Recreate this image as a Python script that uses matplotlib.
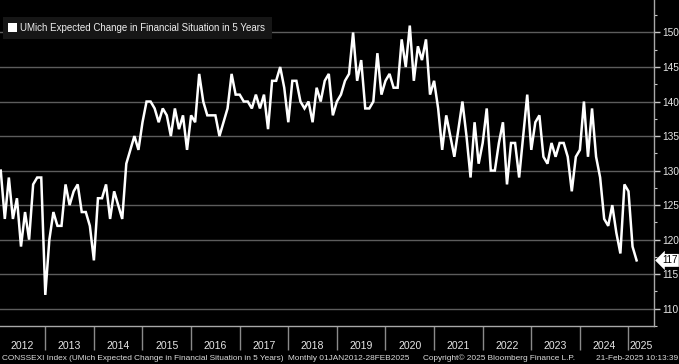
import matplotlib
matplotlib.use("Agg")
import matplotlib.pyplot as plt
from matplotlib.patches import Rectangle
import numpy as np

# ---- data (monthly, Jan 2012 .. Feb 2025) ----
values_2012 = [130, 123, 129, 123, 126, 119, 124, 120, 128, 129, 129, 112]
values_2013 = [120, 124, 122, 122, 128, 125, 127, 128, 124, 124, 122, 117]
values_2014 = [126, 126, 128, 123, 127, 125, 123, 131, 133, 135, 133, 137]
values_2015 = [140, 140, 139, 137, 139, 138, 135, 139, 136, 138, 133, 138]
values_2016 = [137, 144, 140, 138, 138, 138, 135, 137, 139, 144, 141, 141]
values_2017 = [140, 140, 139, 141, 139, 141, 136, 143, 143, 145, 142, 137]
values_2018 = [143, 143, 140, 139, 140, 137, 142, 140, 143, 144, 138, 140]
values_2019 = [141, 143, 144, 150, 143, 146, 139, 139, 140, 147, 141, 143]
values_2020 = [144, 142, 142, 149, 145, 151, 143, 148, 146, 149, 141, 143]
values_2021 = [139, 133, 138, 135, 132, 136, 140, 135, 129, 137, 131, 134]
values_2022 = [139, 130, 130, 134, 137, 128, 134, 134, 129, 135, 141, 133]
values_2023 = [137, 138, 132, 131, 134, 132, 134, 134, 132, 127, 132, 133]
values_2024 = [140, 132, 139, 132, 129, 123, 122, 125, 121, 118, 128, 127]
values_2025 = [119, 117]

years = list(range(2012, 2026))
series_label = "UMich Expected Change in Financial Situation in 5 Years"
y_ticks = [110, 115, 120, 125, 130, 135, 140, 145, 150]
last_label = "117"

values = (values_2012 + values_2013 + values_2014 + values_2015 + values_2016 +
          values_2017 + values_2018 + values_2019 + values_2020 + values_2021 +
          values_2022 + values_2023 + values_2024 + values_2025)
x = np.arange(len(values))  # month index, point at month end

W, H = 679, 364
fig = plt.figure(figsize=(W / 100, H / 100), dpi=100, facecolor="black")
plt.rcParams["font.family"] = ["Liberation Sans", "DejaVu Sans"]

ax = fig.add_axes([0, (H - 326) / H, 654 / W, 326 / H])
ax.set_facecolor("black")

ax.plot(x, values, color="white", lw=1.8, solid_joinstyle="miter", zorder=3)

xmin, xmax = -0.185, 161.3
ax.set_xlim(xmin, xmax)
ax.set_ylim(108.3, 154.7)

# grid
ax.set_yticks(y_ticks)
ax.set_yticks(np.arange(107.5, 155, 2.5), minor=True)
for v in y_ticks:
    ax.axhline(v, color="#5c5c5c", lw=1.0, zorder=1)

ax.yaxis.tick_right()
ax.tick_params(axis="y", which="major", length=4.5, width=1.0, color="#c8c8c8",
               labelcolor="#e6e6e6", labelsize=7.3, pad=1.5, direction="out")
ax.tick_params(axis="y", which="minor", length=2.5, width=0.8, color="#c8c8c8",
               direction="out")

# x axis: year separators + year labels centred in the visible part of each year
bounds = [12 * (yr - 2012) - 1 for yr in years[1:]]
edges = [12 * (yr - 2012) - 1 for yr in years] + [12 * (years[-1] + 1 - 2012) - 1]
centers = [(max(edges[k], xmin) + min(edges[k + 1], xmax)) / 2 for k in range(len(years))]
ax.set_xticks(bounds)
ax.set_xticklabels([])
ax.set_xticks(centers, minor=True)
ax.set_xticklabels([str(yr) for yr in years], minor=True)
ax.tick_params(axis="x", which="major", length=17, width=1.0, color="#8a8a8a",
               direction="out")
ax.tick_params(axis="x", which="minor", length=0, labelcolor="#e6e6e6",
               labelsize=7.6, pad=11)

for s in ["left", "top"]:
    ax.spines[s].set_visible(False)
for s in ["right", "bottom"]:
    ax.spines[s].set_color("#a8a8a8")
    ax.spines[s].set_linewidth(1.0)

# legend box
fig.add_artist(Rectangle((3 / W, 1 - 39 / H), 269 / W, 22 / H, transform=fig.transFigure,
                         facecolor="#161616", edgecolor="none", zorder=5))
fig.add_artist(Rectangle((8 / W, 1 - 32 / H), 9 / W, 9 / H, transform=fig.transFigure,
                         facecolor="white", edgecolor="none", zorder=6))
fig.text(20 / W, 1 - 28 / H, series_label, color="#eeeeee", fontsize=7.05,
         va="center", ha="left", zorder=7)

# last value tag
ax.text(662 / 654, values[-1], last_label, transform=ax.get_yaxis_transform(),
        color="black", fontsize=7.0, va="center", ha="left", zorder=8,
        bbox=dict(boxstyle="larrow,pad=0.15", facecolor="white", edgecolor="none"),
        clip_on=False)

# footer
fig.text(2 / W, 1 - 358 / H,
         "CONSSEXI Index (UMich Expected Change in Financial Situation in 5 Years)",
         color="#dcdcdc", fontsize=5.95, va="center", ha="left")
fig.text(288 / W, 1 - 358 / H, "Monthly 01JAN2012-28FEB2025",
         color="#dcdcdc", fontsize=5.95, va="center", ha="left")
fig.text(423 / W, 1 - 358 / H, "Copyright\u00a9 2025 Bloomberg Finance L.P.",
         color="#dcdcdc", fontsize=5.95, va="center", ha="left")
fig.text(678 / W, 1 - 358 / H, "21-Feb-2025 10:13:39",
         color="#dcdcdc", fontsize=5.95, va="center", ha="right")

fig.savefig("out.png", dpi=100, facecolor="black")
